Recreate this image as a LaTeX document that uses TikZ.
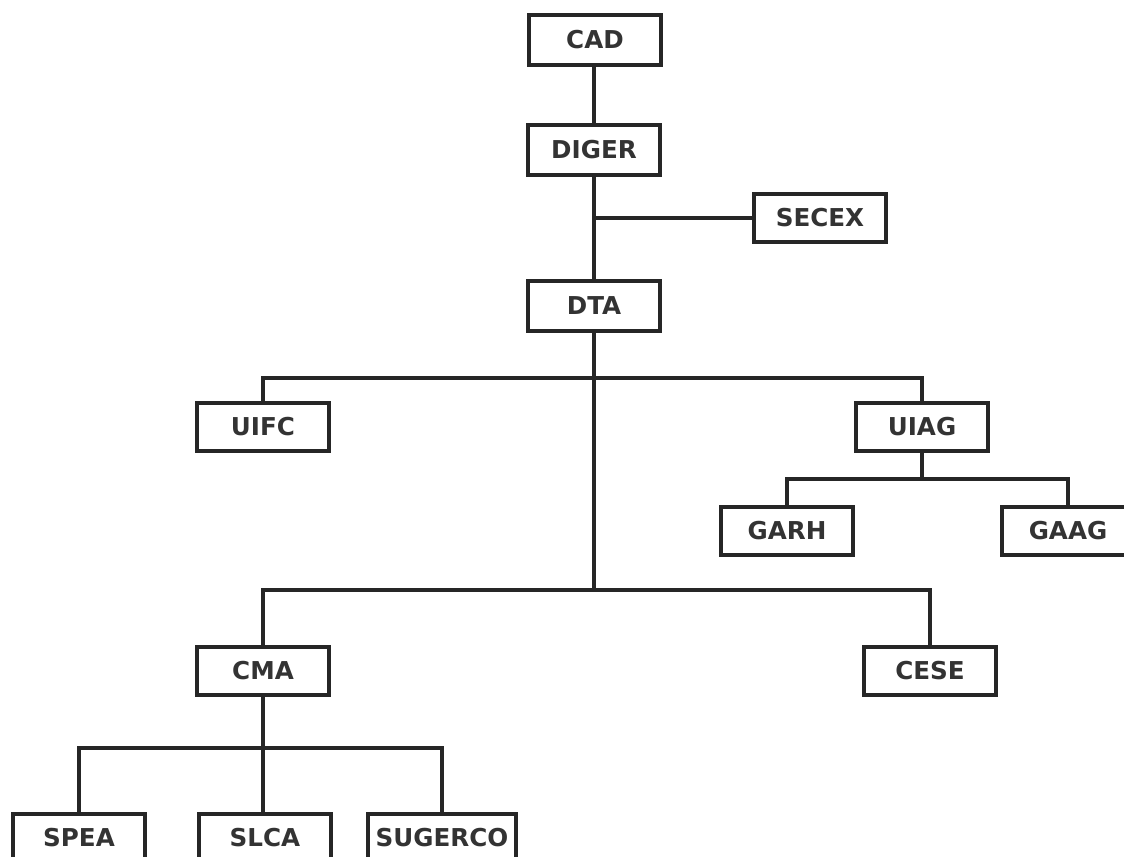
\documentclass[tikz,border=0pt]{standalone}
\usepackage{fontspec}
\setmainfont{DejaVu Sans}
\usepackage{tikz}
\usetikzlibrary{positioning,calc}

\tikzset{
  unit/.style={draw=black!85,line width=2.6pt,fill=white,minimum width=3.3cm,minimum height=1.2cm,
    inner sep=0pt,font=\bfseries\fontsize{17.5}{20}\selectfont,text=black!80},
  link/.style={draw=black!85,line width=2.4pt}
}

\begin{document}
\begin{tikzpicture}[x=0.025cm,y=-0.025cm]
\useasboundingbox (0,0) rectangle (1124,856);
% top of the chart
\node[unit,minimum height=1.25cm] (cad) at (595,40) {CAD};
\node[unit,minimum height=1.25cm] (diger) at (594,150) {DIGER};
\node[unit,minimum height=1.2cm] (secex) at (820,218) {SECEX};
\node[unit,minimum height=1.25cm] (dta) at (594,306) {DTA};
\draw[link] (cad.south -| diger.north) -- (diger.north);
\draw[link] (diger) -- (dta);
\draw[link] (secex.west) -- (diger.south |- secex.west);
% units
\node[unit] (uifc) at (263,427) {UIFC};
\node[unit] (uiag) at (922,427) {UIAG};
\node[unit] (garh) at (787,531) {GARH};
\node[unit] (gaag) at (1068,531) {GAAG};
\coordinate (j1) at (594,378);
\draw[link] (uifc.north) |- (j1) -| (uiag.north);
\coordinate (j2) at (922,479);
\draw[link] (uiag) -- (j2);
\draw[link] (garh.north) |- (j2) -| (gaag.north);
% committees
\node[unit] (cma) at (263,671) {CMA};
\node[unit] (cese) at (930,671) {CESE};
\coordinate (j3) at (594,590);
\draw[link] (dta) -- (j3);
\draw[link] (cma.north) |- (j3) -| (cese.north);
% sections
\node[unit,anchor=north] (spea) at (79,812) {SPEA};
\node[unit,anchor=north] (slca) at (265,812) {SLCA};
\node[unit,anchor=north,minimum width=3.7cm] (sugerco) at (442,812) {SUGERCO};
\coordinate (j4) at (265,748);
\draw[link] (cma.south) -- (cma.south |- slca.north);
\draw[link] (spea.north) |- (j4) -| (sugerco.north);
\end{tikzpicture}
\end{document}
